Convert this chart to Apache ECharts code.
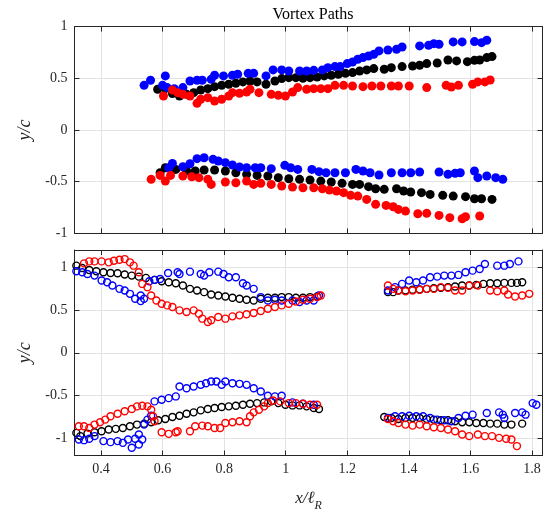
<!DOCTYPE html>
<html>
<head>
<meta charset="utf-8">
<script src="https://cdn.jsdelivr.net/npm/echarts@6/dist/echarts.min.js"></script>
<style>html,body{margin:0;padding:0;background:#fff}#c{width:553px;height:513px}</style>
</head>
<body>
<div id="c"></div>
<script>
// ---------- Data (x/l_R, y/c) ----------
const titleText = 'Vortex Paths';
const xTicks = [0.4, 0.6, 0.8, 1, 1.2, 1.4, 1.6, 1.8];
const yTicks = [-1, -0.5, 0, 0.5, 1];

// Top panel (filled markers)
const topBlue = [
 [0.54,0.432],[0.561,0.481],[0.609,0.523],[0.60,0.432],[0.615,0.41],[0.638,0.40],[0.666,0.41],[0.689,0.474],[0.712,0.481],[0.729,0.481],[0.758,0.49],[0.769,0.529],[0.798,0.523],[0.827,0.529],[0.844,0.539],[0.878,0.548],[0.896,0.548],[0.936,0.523],[0.959,0.581],[0.987,0.581],[1.01,0.571],[1.045,0.571],[1.068,0.571],[1.091,0.577],[1.119,0.581],[1.137,0.603],[1.16,0.613],[1.177,0.613],[1.2,0.642],[1.217,0.658],[1.234,0.684],[1.251,0.70],[1.269,0.716],[1.286,0.732],[1.303,0.765],[1.332,0.774],[1.36,0.781],[1.378,0.803],[1.435,0.813],[1.464,0.819],[1.481,0.835],[1.498,0.829],[1.544,0.852],[1.573,0.852],[1.613,0.855],[1.636,0.845],[1.653,0.868],
 [0.62,-0.365],[0.632,-0.323],[0.666,-0.355],[0.689,-0.326],[0.712,-0.277],[0.735,-0.268],[0.764,-0.284],[0.781,-0.30],[0.804,-0.316],[0.827,-0.339],[0.85,-0.358],[0.873,-0.365],[0.901,-0.365],[0.919,-0.365],[0.953,-0.374],[0.997,-0.342],[1.016,-0.365],[1.039,-0.381],[1.085,-0.381],[1.108,-0.403],[1.131,-0.413],[1.16,-0.413],[1.194,-0.413],[1.228,-0.381],[1.251,-0.397],[1.274,-0.413],[1.303,-0.435],[1.343,-0.413],[1.378,-0.413],[1.406,-0.413],[1.435,-0.406],[1.498,-0.406],[1.527,-0.429],[1.55,-0.419],[1.567,-0.413],[1.613,-0.397],[1.624,-0.461],[1.653,-0.445],[1.682,-0.461],[1.705,-0.477]
];
const topBlack = [
 [0.584,0.394],[0.609,0.40],[0.632,0.352],[0.655,0.329],[0.678,0.345],[0.701,0.361],[0.724,0.387],[0.747,0.40],[0.769,0.419],[0.792,0.432],[0.815,0.442],[0.838,0.452],[0.861,0.465],[0.884,0.474],[0.907,0.465],[0.936,0.442],[0.965,0.474],[0.987,0.497],[1.01,0.506],[1.033,0.506],[1.056,0.50],[1.079,0.506],[1.102,0.513],[1.125,0.523],[1.148,0.529],[1.171,0.539],[1.194,0.548],[1.217,0.555],[1.24,0.571],[1.263,0.581],[1.286,0.594],[1.32,0.587],[1.343,0.603],[1.378,0.613],[1.412,0.619],[1.435,0.626],[1.458,0.642],[1.492,0.648],[1.527,0.677],[1.555,0.668],[1.59,0.661],[1.613,0.674],[1.63,0.677],[1.653,0.70],[1.67,0.71],
 [0.592,-0.413],[0.609,-0.365],[0.643,-0.381],[0.678,-0.397],[0.706,-0.397],[0.735,-0.387],[0.769,-0.387],[0.804,-0.397],[0.838,-0.413],[0.873,-0.429],[0.907,-0.439],[0.942,-0.445],[0.976,-0.461],[1.01,-0.471],[1.045,-0.477],[1.079,-0.484],[1.114,-0.494],[1.148,-0.503],[1.183,-0.516],[1.217,-0.526],[1.24,-0.526],[1.269,-0.548],[1.292,-0.568],[1.32,-0.574],[1.36,-0.568],[1.383,-0.59],[1.406,-0.60],[1.441,-0.606],[1.469,-0.623],[1.51,-0.632],[1.544,-0.639],[1.584,-0.645],[1.613,-0.665],[1.636,-0.665],[1.67,-0.671]
];
const topRed = [
 [0.603,0.329],[0.632,0.387],[0.649,0.361],[0.666,0.345],[0.689,0.329],[0.712,0.258],[0.724,0.297],[0.747,0.313],[0.769,0.281],[0.792,0.297],[0.815,0.329],[0.827,0.361],[0.85,0.355],[0.873,0.368],[0.884,0.394],[0.913,0.361],[0.953,0.345],[0.976,0.335],[0.999,0.329],[1.022,0.368],[1.039,0.41],[1.068,0.394],[1.091,0.40],[1.114,0.40],[1.137,0.40],[1.16,0.432],[1.188,0.432],[1.217,0.426],[1.251,0.419],[1.28,0.426],[1.309,0.426],[1.343,0.426],[1.366,0.426],[1.401,0.426],[1.458,0.41],[1.521,0.432],[1.538,0.416],[1.561,0.432],[1.607,0.442],[1.624,0.465],[1.647,0.465],[1.664,0.484],
 [0.563,-0.477],[0.592,-0.439],[0.609,-0.494],[0.626,-0.439],[0.666,-0.445],[0.695,-0.452],[0.718,-0.461],[0.747,-0.477],[0.758,-0.526],[0.804,-0.503],[0.838,-0.51],[0.873,-0.494],[0.896,-0.526],[0.919,-0.516],[0.953,-0.526],[0.987,-0.542],[1.022,-0.552],[1.056,-0.558],[1.091,-0.558],[1.119,-0.568],[1.142,-0.581],[1.165,-0.59],[1.188,-0.606],[1.211,-0.632],[1.234,-0.639],[1.263,-0.671],[1.292,-0.719],[1.326,-0.729],[1.349,-0.742],[1.366,-0.768],[1.389,-0.784],[1.429,-0.81],[1.458,-0.806],[1.498,-0.826],[1.533,-0.848],[1.573,-0.858],[1.584,-0.839],[1.63,-0.832]
];

// Bottom panel (open markers)
const botBlack = [
 [0.32,1.017],[0.339,0.99],[0.362,0.967],[0.385,0.951],[0.408,0.94],[0.431,0.932],[0.454,0.928],[0.477,0.913],[0.50,0.901],[0.523,0.889],[0.546,0.874],[0.574,0.851],[0.597,0.835],[0.62,0.824],[0.643,0.812],[0.666,0.785],[0.689,0.746],[0.712,0.727],[0.735,0.708],[0.758,0.681],[0.781,0.669],[0.804,0.657],[0.827,0.642],[0.85,0.63],[0.873,0.619],[0.896,0.611],[0.919,0.63],[0.942,0.642],[0.965,0.642],[0.987,0.65],[1.01,0.65],[1.033,0.642],[1.056,0.642],[1.079,0.65],[1.102,0.657],
 [1.332,0.708],[1.349,0.708],[1.366,0.727],[1.389,0.727],[1.412,0.735],[1.435,0.739],[1.458,0.746],[1.481,0.754],[1.504,0.758],[1.527,0.766],[1.55,0.773],[1.573,0.785],[1.596,0.785],[1.619,0.793],[1.642,0.804],[1.664,0.812],[1.687,0.812],[1.71,0.816],[1.733,0.816],[1.751,0.816],[1.768,0.824],
 [0.32,-0.936],[0.333,-0.974],[0.356,-0.944],[0.379,-0.928],[0.402,-0.916],[0.425,-0.897],[0.448,-0.889],[0.471,-0.878],[0.494,-0.858],[0.517,-0.839],[0.54,-0.828],[0.563,-0.812],[0.586,-0.789],[0.609,-0.773],[0.632,-0.75],[0.655,-0.735],[0.678,-0.712],[0.701,-0.696],[0.724,-0.673],[0.747,-0.657],[0.769,-0.646],[0.792,-0.634],[0.815,-0.626],[0.838,-0.619],[0.861,-0.607],[0.884,-0.596],[0.907,-0.588],[0.93,-0.58],[0.953,-0.568],[0.976,-0.588],[0.999,-0.607],[1.022,-0.615],[1.045,-0.615],[1.068,-0.626],[1.091,-0.646],[1.108,-0.657],
 [1.32,-0.75],[1.343,-0.762],[1.366,-0.773],[1.389,-0.762],[1.412,-0.762],[1.435,-0.762],[1.458,-0.773],[1.481,-0.781],[1.504,-0.789],[1.527,-0.789],[1.55,-0.80],[1.573,-0.812],[1.596,-0.812],[1.619,-0.82],[1.642,-0.82],[1.664,-0.828],[1.687,-0.828],[1.71,-0.839],[1.733,-0.839],[1.768,-0.828]
];
const botBlue = [
 [0.32,0.951],[0.339,0.94],[0.356,0.92],[0.379,0.901],[0.402,0.843],[0.42,0.824],[0.437,0.785],[0.46,0.746],[0.477,0.727],[0.494,0.688],[0.511,0.63],[0.529,0.603],[0.54,0.63],[0.529,0.669],[0.557,0.835],[0.574,0.851],[0.592,0.862],[0.618,0.932],[0.649,0.94],[0.655,0.92],[0.689,0.947],[0.724,0.92],[0.735,0.901],[0.752,0.94],[0.781,0.947],[0.798,0.92],[0.815,0.882],[0.838,0.882],[0.861,0.812],[0.873,0.785],[0.896,0.746],[0.919,0.65],[0.942,0.611],[0.965,0.619],[0.987,0.611],[1.022,0.611],[1.045,0.592],[1.068,0.611],[1.091,0.611],[1.108,0.669],
 [1.332,0.727],[1.355,0.766],[1.378,0.804],[1.401,0.843],[1.424,0.824],[1.446,0.843],[1.469,0.882],[1.492,0.889],[1.515,0.901],[1.538,0.901],[1.561,0.909],[1.584,0.94],[1.607,0.959],[1.63,0.978],[1.647,1.036],[1.687,1.017],[1.71,1.017],[1.728,1.036],[1.756,1.067],
 [0.328,-1.013],[0.345,-1.021],[0.362,-1.005],[0.379,-0.974],[0.408,-1.032],[0.431,-1.044],[0.454,-1.032],[0.471,-1.052],[0.488,-1.013],[0.50,-1.11],[0.511,-1.005],[0.523,-1.071],[0.534,-1.013],[0.523,-0.955],[0.54,-0.839],[0.551,-0.781],[0.563,-0.735],[0.574,-0.568],[0.597,-0.549],[0.62,-0.53],[0.643,-0.51],[0.655,-0.394],[0.678,-0.414],[0.701,-0.394],[0.724,-0.375],[0.741,-0.356],[0.758,-0.336],[0.775,-0.336],[0.792,-0.375],[0.804,-0.336],[0.827,-0.356],[0.85,-0.363],[0.873,-0.375],[0.896,-0.414],[0.919,-0.452],[0.942,-0.503],[0.965,-0.51],[0.987,-0.503],[1.022,-0.58],[1.056,-0.596],[1.091,-0.607],
 [1.332,-0.762],[1.355,-0.742],[1.378,-0.742],[1.401,-0.735],[1.424,-0.742],[1.446,-0.742],[1.469,-0.762],[1.492,-0.781],[1.515,-0.789],[1.538,-0.80],[1.561,-0.762],[1.584,-0.735],[1.607,-0.723],[1.653,-0.704],[1.693,-0.696],[1.705,-0.723],[1.71,-0.762],[1.745,-0.704],[1.768,-0.696],[1.779,-0.723],[1.802,-0.588],[1.814,-0.607]
];
const botRed = [
 [0.345,1.044],[0.362,1.067],[0.379,1.067],[0.402,1.067],[0.425,1.056],[0.442,1.075],[0.46,1.087],[0.477,1.094],[0.494,1.056],[0.506,1.017],[0.523,0.94],[0.534,0.804],[0.551,0.766],[0.563,0.669],[0.58,0.611],[0.597,0.572],[0.615,0.553],[0.632,0.534],[0.655,0.495],[0.678,0.476],[0.701,0.495],[0.718,0.456],[0.729,0.398],[0.747,0.36],[0.758,0.379],[0.781,0.418],[0.804,0.398],[0.827,0.425],[0.85,0.437],[0.873,0.449],[0.896,0.464],[0.919,0.487],[0.942,0.514],[0.965,0.534],[0.987,0.553],[1.01,0.572],[1.033,0.599],[1.056,0.619],[1.079,0.63],[1.102,0.65],[1.114,0.669],
 [1.332,0.785],[1.349,0.746],[1.366,0.727],[1.389,0.719],[1.412,0.727],[1.435,0.735],[1.458,0.746],[1.481,0.746],[1.504,0.766],[1.527,0.758],[1.55,0.727],[1.573,0.727],[1.596,0.785],[1.624,0.785],[1.664,0.727],[1.687,0.719],[1.71,0.727],[1.722,0.681],[1.745,0.657],[1.768,0.669],[1.791,0.688],
 [0.328,-0.858],[0.345,-0.858],[0.362,-0.878],[0.379,-0.839],[0.397,-0.812],[0.414,-0.781],[0.431,-0.742],[0.454,-0.712],[0.477,-0.684],[0.50,-0.657],[0.517,-0.626],[0.534,-0.619],[0.551,-0.626],[0.563,-0.665],[0.569,-0.742],[0.574,-0.80],
 [0.597,-0.928],[0.62,-0.947],[0.643,-0.928],[0.649,-0.916],[0.689,-0.916],[0.706,-0.858],[0.729,-0.851],[0.747,-0.858],[0.769,-0.878],[0.787,-0.878],[0.804,-0.82],[0.827,-0.812],[0.85,-0.80],[0.873,-0.812],[0.884,-0.742],[0.896,-0.696],[0.913,-0.665],[0.93,-0.626],[0.942,-0.588],[0.959,-0.557],[0.982,-0.568],[1.01,-0.588],[1.033,-0.588],[1.056,-0.596],[1.079,-0.607],[1.102,-0.607],
 [1.332,-0.773],[1.349,-0.80],[1.366,-0.82],[1.389,-0.839],[1.412,-0.851],[1.435,-0.839],[1.458,-0.858],[1.481,-0.87],[1.504,-0.878],[1.527,-0.897],[1.55,-0.916],[1.573,-0.955],[1.596,-0.974],[1.624,-0.955],[1.647,-0.974],[1.67,-0.974],[1.693,-0.994],[1.716,-1.005],[1.733,-1.013],[1.751,-1.09]
];

// ---------- Chart ----------
const XMIN = 0.314, XMAX = 1.834;
const FONT = "'Liberation Serif', 'DejaVu Serif', serif";
const AX = '#262626';
const GRIDC = '#e3e3e3';
const near = (v, arr) => arr.some(t => Math.abs(t - v) < 1e-6);
const fmt = v => String(Math.round(v * 10) / 10);

function xAx(gi, pos, labels, name) {
  return {
    type: 'value', gridIndex: gi, position: pos, min: XMIN, max: XMAX, splitNumber: 8,
    axisLine: { show: true, onZero: false, lineStyle: { color: AX, width: 1 } },
    axisTick: { show: true, inside: true, length: 5, lineStyle: { color: AX } },
    axisLabel: { show: labels, showMinLabel: true, showMaxLabel: true, color: AX, fontFamily: FONT, fontSize: 14, margin: 7,
      formatter: v => near(v, xTicks) ? fmt(v) : '' },
    splitLine: { show: pos === 'bottom', lineStyle: { color: GRIDC, width: 1 } },
    name: name || '', nameLocation: 'middle', nameGap: 32,
    nameTextStyle: { rich: {
      i: { fontFamily: FONT, fontStyle: 'italic', fontSize: 17, color: AX, lineHeight: 22, verticalAlign: 'middle' },
      s: { fontFamily: FONT, fontStyle: 'italic', fontSize: 12, color: AX, lineHeight: 22, verticalAlign: 'bottom', padding: [0, 0, -2, 0] }
    } }
  };
}
function yAx(gi, pos, mn, mx, labels) {
  return {
    type: 'value', gridIndex: gi, position: pos, min: mn, max: mx, splitNumber: 5,
    axisLine: { show: true, onZero: false, lineStyle: { color: AX, width: 1 } },
    axisTick: { show: true, inside: true, length: 5, lineStyle: { color: AX } },
    axisLabel: { show: labels, showMinLabel: true, showMaxLabel: true, color: AX, fontFamily: FONT, fontSize: 14, margin: 7,
      formatter: v => near(v, yTicks) ? fmt(v) : '' },
    splitLine: { show: pos === 'left', lineStyle: { color: GRIDC, width: 1 } },
    name: labels ? 'y/c' : '', nameLocation: 'middle', nameGap: 38, nameRotate: 90,
    nameTextStyle: { fontFamily: FONT, fontStyle: 'italic', fontSize: 18, color: AX }
  };
}
function filled(data, color, xi, yi) {
  return { type: 'scatter', xAxisIndex: xi, yAxisIndex: yi, data, symbol: 'circle', symbolSize: 9,
    itemStyle: { color, opacity: 1 }, silent: true, large: false };
}
function open(data, color, xi, yi) {
  return { type: 'scatter', xAxisIndex: xi, yAxisIndex: yi, data, symbol: 'circle', symbolSize: 7,
    itemStyle: { color: 'rgba(0,0,0,0)', borderColor: color, borderWidth: 1.4, opacity: 1 }, silent: true, large: false };
}

const chart = echarts.init(document.getElementById('c'), null, { renderer: 'canvas' });
chart.setOption({
  animation: false,
  backgroundColor: '#fff',
  title: { text: titleText, left: 308, top: 2, textAlign: 'center',
    textStyle: { fontFamily: FONT, fontWeight: 'normal', fontSize: 16, color: '#000' } },
  grid: [
    { left: 74.5, top: 26.6, width: 468, height: 206.8 },
    { left: 74.5, top: 250, width: 468, height: 205.5 }
  ],
  xAxis: [
    xAx(0, 'bottom', false), xAx(0, 'top', false),
    xAx(1, 'bottom', true, '{i|x/ℓ}{s|R}'), xAx(1, 'top', false)
  ],
  yAxis: [
    yAx(0, 'left', -1, 1, true), yAx(0, 'right', -1, 1, false),
    yAx(1, 'left', -1.2, 1.2, true), yAx(1, 'right', -1.2, 1.2, false)
  ],
  series: [
    filled(topBlack, '#000000', 0, 0),
    filled(topBlue, '#0000ff', 0, 0),
    filled(topRed, '#ff0000', 0, 0),
    open(botBlack, '#000000', 2, 2),
    open(botBlue, '#0000ff', 2, 2),
    open(botRed, '#ff0000', 2, 2)
  ]
});
</script>
</body>
</html>
